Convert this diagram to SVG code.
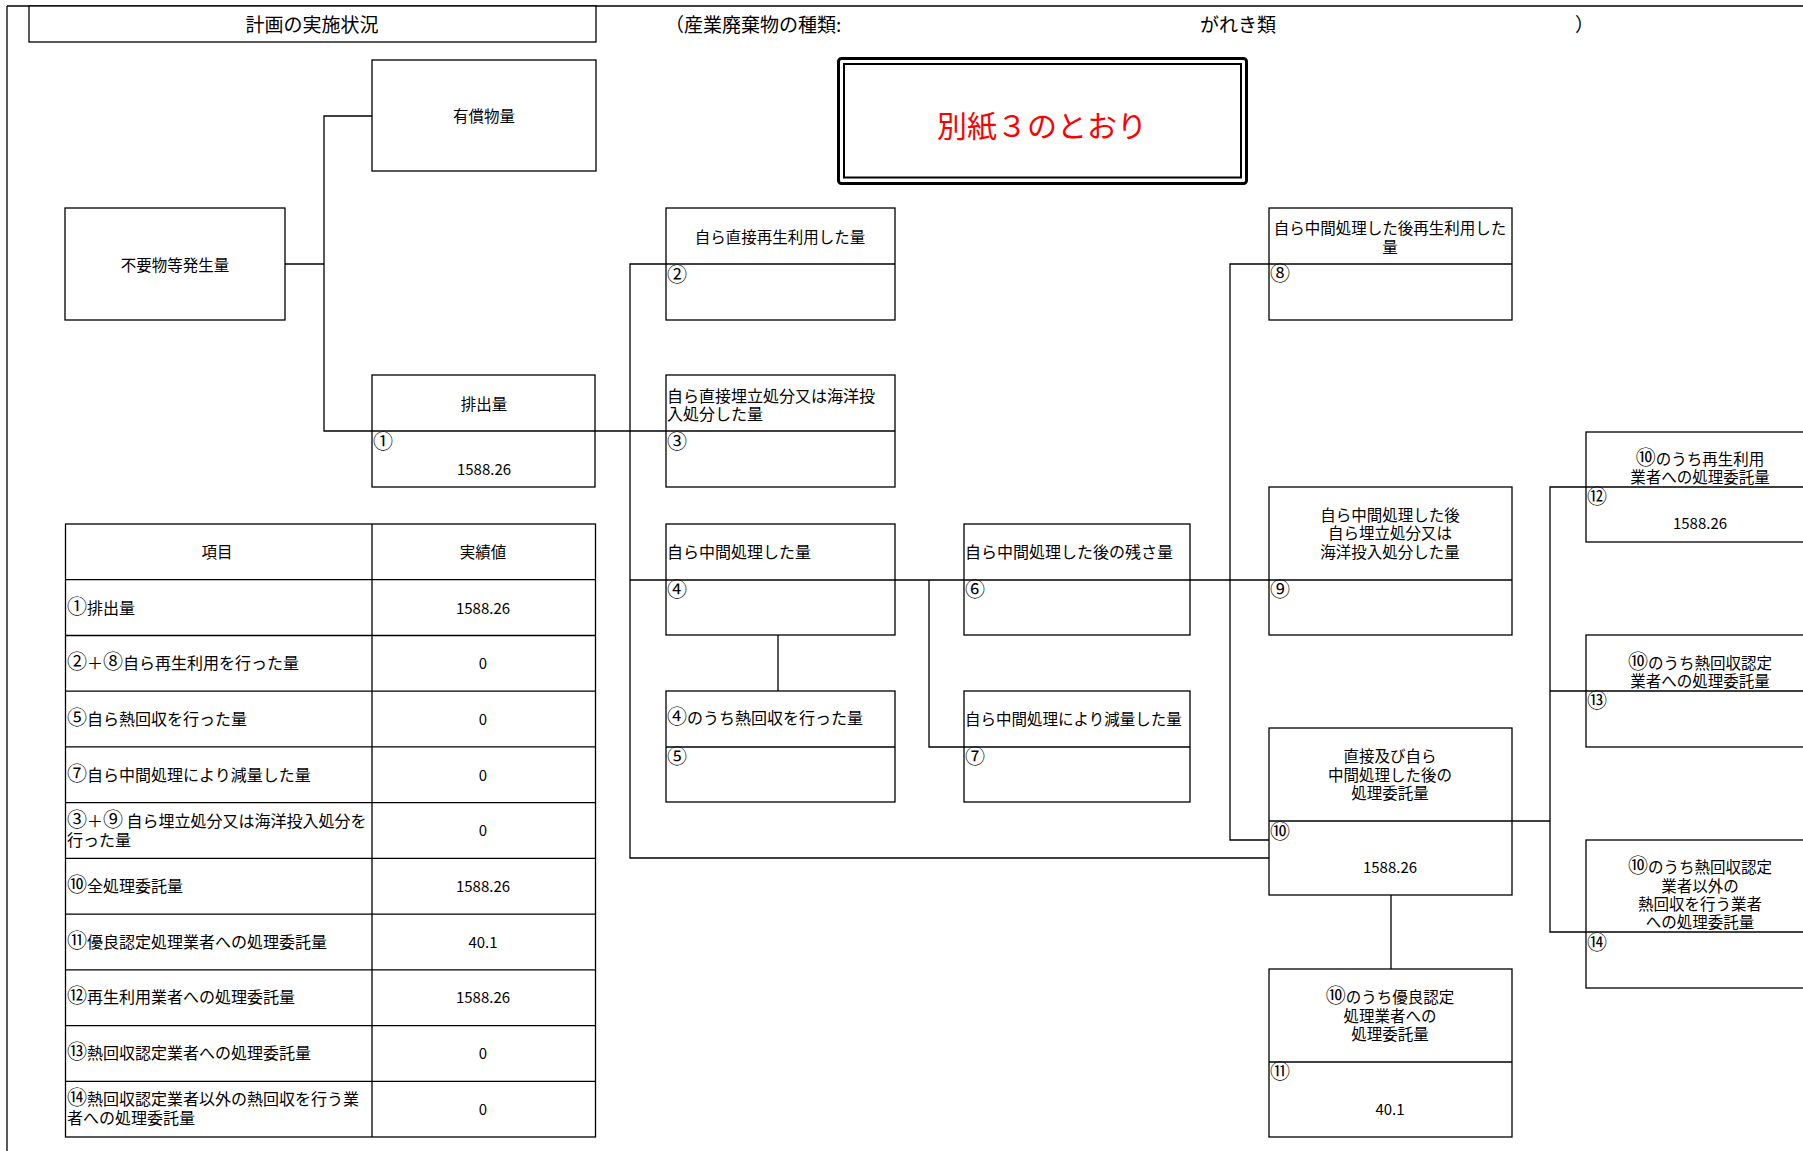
<svg xmlns="http://www.w3.org/2000/svg" width="1803" height="1151" viewBox="0 0 1803 1151">
<style>
  .bx { fill: #fff; stroke: #000; stroke-width: 1.3; }
  .ln { fill: none; stroke: #000; stroke-width: 1.3; }
  text { font-family: 'Noto Sans CJK JP', 'Noto Sans CJK SC', sans-serif; fill: #000; }
  .t { font-size: 16px; }
  .c { font-size: 15.5px; text-anchor: middle; }
  .n { font-size: 15px; text-anchor: middle; }
  .h { font-size: 19px; }
  .hc { font-size: 19px; text-anchor: middle; }
  .red { font-size: 30px; text-anchor: middle; fill: #ff0000; }
  .cn { font-size: 20px; }
</style>
<rect x="0" y="0" width="1803" height="1151" fill="#fff"/>

<g id="page">
  <line class="ln" x1="7" y1="6" x2="1803" y2="6"/>
  <line class="ln" x1="7" y1="6" x2="7" y2="1151"/>
</g>

<g id="header">
  <rect class="bx" x="29" y="6" width="567" height="36"/>
  <text class="hc" x="312" y="32">計画の実施状況</text>
  <text class="h" x="665" y="32">（産業廃棄物の種類:</text>
  <text class="hc" x="1238" y="32">がれき類</text>
  <text class="h" x="1575" y="32">）</text>
</g>

<g id="note">
  <rect x="838.5" y="58.5" width="408" height="125" rx="3" fill="#fff" stroke="#000" stroke-width="3"/>
  <rect x="844" y="64" width="397" height="113.5" fill="none" stroke="#000" stroke-width="2"/>
  <text class="red" x="1042" y="137">別紙３のとおり</text>
</g>

<g id="connectors">
  <polyline class="ln" points="285,264 324,264"/>
  <polyline class="ln" points="372,116 324,116 324,431 372,431"/>
  <polyline class="ln" points="595,431 666,431"/>
  <polyline class="ln" points="666,264 630,264 630,858 1269,858"/>
  <polyline class="ln" points="630,580 666,580"/>
  <polyline class="ln" points="778,635 778,691"/>
  <polyline class="ln" points="895,580 964,580"/>
  <polyline class="ln" points="1190,580 1269,580"/>
  <polyline class="ln" points="929,580 929,747 964,747"/>
  <polyline class="ln" points="1269,264 1230,264 1230,840 1269,840"/>
  <polyline class="ln" points="1391,895 1391,969"/>
  <polyline class="ln" points="1512,821 1550,821"/>
  <polyline class="ln" points="1586,487 1550,487 1550,932 1586,932"/>
  <polyline class="ln" points="1550,691 1586,691"/>
</g>

<g id="node-yushobutsu">
  <rect class="bx" x="372" y="60" width="224" height="111"/>
  <text class="c" x="484" y="122">有償物量</text>
</g>

<g id="node-fuyobutsu">
  <rect class="bx" x="65" y="208" width="220" height="112"/>
  <text class="c" x="175" y="271">不要物等発生量</text>
</g>

<g id="node-1">
  <rect class="bx" x="372" y="375" width="223" height="112"/>
  <line class="ln" x1="372" y1="431" x2="595" y2="431"/>
  <text class="c" x="484" y="410">排出量</text>
  <text class="t cn" x="373" y="449">①</text>
  <text class="n" x="484" y="475">1588.26</text>
</g>

<g id="node-2">
  <rect class="bx" x="666" y="208" width="229" height="112"/>
  <line class="ln" x1="666" y1="264" x2="895" y2="264"/>
  <text class="c" x="780" y="243">自ら直接再生利用した量</text>
  <text class="t cn" x="667" y="282">②</text>
</g>

<g id="node-3">
  <rect class="bx" x="666" y="375" width="229" height="112"/>
  <line class="ln" x1="666" y1="431" x2="895" y2="431"/>
  <text class="t"><tspan x="667" y="402">自ら直接埋立処分又は海洋投</tspan><tspan x="667" y="420">入処分した量</tspan></text>
  <text class="t cn" x="667" y="449">③</text>
</g>

<g id="node-4">
  <rect class="bx" x="666" y="524" width="229" height="111"/>
  <line class="ln" x1="666" y1="580" x2="895" y2="580"/>
  <text class="t" x="667" y="558">自ら中間処理した量</text>
  <text class="t cn" x="667" y="597">④</text>
</g>

<g id="node-5">
  <rect class="bx" x="666" y="691" width="229" height="111"/>
  <line class="ln" x1="666" y1="747" x2="895" y2="747"/>
  <text class="t" x="667" y="724"><tspan class="cn">④</tspan>のうち熱回収を行った量</text>
  <text class="t cn" x="667" y="764">⑤</text>
</g>

<g id="node-6">
  <rect class="bx" x="964" y="524" width="226" height="111"/>
  <line class="ln" x1="964" y1="580" x2="1190" y2="580"/>
  <text class="t" x="965" y="558">自ら中間処理した後の残さ量</text>
  <text class="t cn" x="965" y="597">⑥</text>
</g>

<g id="node-7">
  <rect class="bx" x="964" y="691" width="226" height="111"/>
  <line class="ln" x1="964" y1="747" x2="1190" y2="747"/>
  <text class="t" x="965" y="725" style="font-size:15.5px">自ら中間処理により減量した量</text>
  <text class="t cn" x="965" y="764">⑦</text>
</g>

<g id="node-8">
  <rect class="bx" x="1269" y="208" width="243" height="112"/>
  <line class="ln" x1="1269" y1="264" x2="1512" y2="264"/>
  <text class="c"><tspan x="1390" y="234">自ら中間処理した後再生利用した</tspan><tspan x="1390" y="253">量</tspan></text>
  <text class="t cn" x="1270" y="281">⑧</text>
</g>

<g id="node-9">
  <rect class="bx" x="1269" y="487" width="243" height="148"/>
  <line class="ln" x1="1269" y1="580" x2="1512" y2="580"/>
  <text class="c"><tspan x="1390" y="521">自ら中間処理した後</tspan><tspan x="1390" y="539">自ら埋立処分又は</tspan><tspan x="1390" y="558">海洋投入処分した量</tspan></text>
  <text class="t cn" x="1270" y="597">⑨</text>
</g>

<g id="node-10">
  <rect class="bx" x="1269" y="728" width="243" height="167"/>
  <line class="ln" x1="1269" y1="821" x2="1512" y2="821"/>
  <text class="c"><tspan x="1390" y="762">直接及び自ら</tspan><tspan x="1390" y="781">中間処理した後の</tspan><tspan x="1390" y="799">処理委託量</tspan></text>
  <text class="t cn" x="1270" y="839">⑩</text>
  <text class="n" x="1390" y="873">1588.26</text>
</g>

<g id="node-11">
  <rect class="bx" x="1269" y="969" width="243" height="168"/>
  <line class="ln" x1="1269" y1="1062" x2="1512" y2="1062"/>
  <text class="c"><tspan x="1390" y="1003"><tspan class="cn">⑩</tspan>のうち優良認定</tspan><tspan x="1390" y="1022">処理業者への</tspan><tspan x="1390" y="1040">処理委託量</tspan></text>
  <text class="t cn" x="1270" y="1079">⑪</text>
  <text class="n" x="1390" y="1115">40.1</text>
</g>

<g id="node-12">
  <rect class="bx" x="1586" y="432" width="230" height="110"/>
  <line class="ln" x1="1586" y1="487" x2="1816" y2="487"/>
  <text class="c"><tspan x="1700" y="465"><tspan class="cn">⑩</tspan>のうち再生利用</tspan><tspan x="1700" y="483">業者への処理委託量</tspan></text>
  <text class="t cn" x="1587" y="504">⑫</text>
  <text class="n" x="1700" y="529">1588.26</text>
</g>

<g id="node-13">
  <rect class="bx" x="1586" y="635" width="230" height="112"/>
  <line class="ln" x1="1586" y1="691" x2="1816" y2="691"/>
  <text class="c"><tspan x="1700" y="669"><tspan class="cn">⑩</tspan>のうち熱回収認定</tspan><tspan x="1700" y="687">業者への処理委託量</tspan></text>
  <text class="t cn" x="1587" y="708">⑬</text>
</g>

<g id="node-14">
  <rect class="bx" x="1586" y="840" width="230" height="148"/>
  <line class="ln" x1="1586" y1="932" x2="1816" y2="932"/>
  <text class="c"><tspan x="1700" y="873"><tspan class="cn">⑩</tspan>のうち熱回収認定</tspan><tspan x="1700" y="892">業者以外の</tspan><tspan x="1700" y="910">熱回収を行う業者</tspan><tspan x="1700" y="928">への処理委託量</tspan></text>
  <text class="t cn" x="1587" y="950">⑭</text>
</g>

<g id="table">
  <rect class="bx" x="65.5" y="524" width="530" height="613"/>
  <line class="ln" x1="372" y1="524" x2="372" y2="1137"/>
  <line class="ln" x1="65.5" y1="579.7" x2="595.5" y2="579.7"/>
  <line class="ln" x1="65.5" y1="635.5" x2="595.5" y2="635.5"/>
  <line class="ln" x1="65.5" y1="691.2" x2="595.5" y2="691.2"/>
  <line class="ln" x1="65.5" y1="746.9" x2="595.5" y2="746.9"/>
  <line class="ln" x1="65.5" y1="802.7" x2="595.5" y2="802.7"/>
  <line class="ln" x1="65.5" y1="858.4" x2="595.5" y2="858.4"/>
  <line class="ln" x1="65.5" y1="914.1" x2="595.5" y2="914.1"/>
  <line class="ln" x1="65.5" y1="969.8" x2="595.5" y2="969.8"/>
  <line class="ln" x1="65.5" y1="1025.6" x2="595.5" y2="1025.6"/>
  <line class="ln" x1="65.5" y1="1081.3" x2="595.5" y2="1081.3"/>
  <text class="c" x="217" y="558">項目</text>
  <text class="c" x="483" y="558">実績値</text>
  <text class="t" x="67" y="614"><tspan class="cn">①</tspan>排出量</text>
  <text class="n" x="483" y="614">1588.26</text>
  <text class="t" x="67" y="669"><tspan class="cn">②</tspan>＋<tspan class="cn">⑧</tspan>自ら再生利用を行った量</text>
  <text class="n" x="483" y="669">0</text>
  <text class="t" x="67" y="725"><tspan class="cn">⑤</tspan>自ら熱回収を行った量</text>
  <text class="n" x="483" y="725">0</text>
  <text class="t" x="67" y="781"><tspan class="cn">⑦</tspan>自ら中間処理により減量した量</text>
  <text class="n" x="483" y="781">0</text>
  <text class="t"><tspan x="67" y="827"><tspan class="cn">③</tspan>＋<tspan class="cn">⑨</tspan> 自ら埋立処分又は海洋投入処分を</tspan><tspan x="67" y="846">行った量</tspan></text>
  <text class="n" x="483" y="836">0</text>
  <text class="t" x="67" y="892"><tspan class="cn">⑩</tspan>全処理委託量</text>
  <text class="n" x="483" y="892">1588.26</text>
  <text class="t" x="67" y="948"><tspan class="cn">⑪</tspan>優良認定処理業者への処理委託量</text>
  <text class="n" x="483" y="948">40.1</text>
  <text class="t" x="67" y="1003"><tspan class="cn">⑫</tspan>再生利用業者への処理委託量</text>
  <text class="n" x="483" y="1003">1588.26</text>
  <text class="t" x="67" y="1059"><tspan class="cn">⑬</tspan>熱回収認定業者への処理委託量</text>
  <text class="n" x="483" y="1059">0</text>
  <text class="t"><tspan x="67" y="1105"><tspan class="cn">⑭</tspan>熱回収認定業者以外の熱回収を行う業</tspan><tspan x="67" y="1124">者への処理委託量</tspan></text>
  <text class="n" x="483" y="1115">0</text>
</g>
</svg>
